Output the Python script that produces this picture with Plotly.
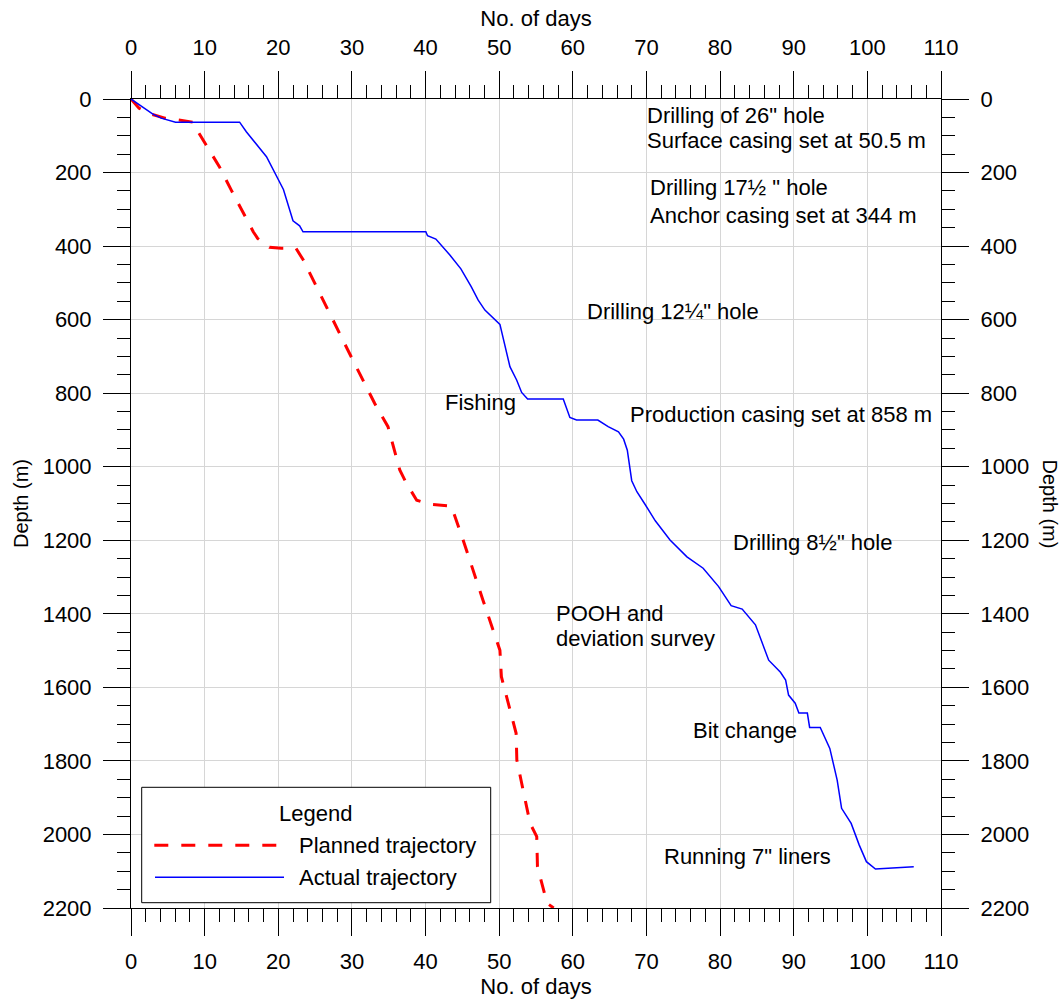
import plotly.graph_objects as go

# Drilling progress: depth reached versus elapsed days
planned_days = [0, 1.1, 2.7, 4.6, 6.1, 8.4, 9.1, 12.0, 13.6, 15.4, 16.6, 17.2, 18.8, 20.4,
                22.4, 23.4, 26.5, 29.9, 33.1, 34.9, 36.5, 37.4, 38.8, 40.6, 43.5, 45.1,
                47.8, 50.1, 50.3, 51.46, 52.3, 52.4, 54.2, 55.1, 55.2, 56.5, 57.4]
planned_depth = [0, 25, 41, 52, 56, 63, 89, 184, 247, 315, 361, 379, 403, 406,
                 406, 438, 565, 701, 828, 891, 1009, 1045, 1091, 1102, 1107, 1199,
                 1363, 1499, 1571, 1662, 1725, 1798, 1970, 2006, 2088, 2187, 2200]

actual_days = [0, 2.97, 4.1, 6.05, 14.75, 15.66, 18.4, 20.7, 22.0, 22.9, 23.36, 40.04,
               40.27, 41.4, 43.3, 44.8, 46.2, 47.15, 48.06, 50.1, 51.46, 52.37, 53.05,
               53.86, 58.7, 59.6, 60.5, 63.4, 64.8, 66.2, 66.9, 67.4, 68.0, 68.7, 69.8,
               71.2, 73.2, 75.5, 77.7, 79.8, 81.5, 83.0, 84.8, 86.6, 88.2, 88.9, 89.3,
               90.2, 90.7, 91.85, 92.16, 93.6, 94.9, 95.9, 96.5, 97.8, 98.9, 99.87,
               101.1, 106.3]
actual_depth = [0, 41, 52, 63, 63, 89, 157, 246, 331, 345, 361, 361,
                372, 381, 424, 462, 510, 547, 574, 613, 728, 764, 798,
                816, 816, 866, 873, 873, 891, 905, 925, 955, 1038, 1068, 1102,
                1147, 1199, 1245, 1276, 1326, 1378, 1387, 1430, 1526, 1559, 1580, 1621,
                1643, 1670, 1670, 1709, 1709, 1766, 1852, 1929, 1970, 2029, 2074,
                2094, 2088]

day_ticks = list(range(0, 111, 10))
depth_ticks = list(range(0, 2201, 200))

# Operation notes: (text, day, depth) at the left edge of each line
notes = [
    ("Drilling of 26\" hole", 69.8, 44),
    ("Surface casing set at 50.5 m", 69.8, 114),
    ("Drilling 17½ \" hole", 70.2, 242),
    ("Anchor casing set at 344 m", 70.2, 316),
    ("Drilling 12¼\" hole", 61.66, 577),
    ("Fishing", 42.35, 824),
    ("Production casing set at 858 m", 67.5, 857),
    ("Drilling 8½\" hole", 81.5, 1207),
    ("POOH and", 57.44, 1398),
    ("deviation survey", 57.44, 1466),
    ("Bit change", 76.06, 1716),
    ("Running 7\" liners", 72.13, 2059),
]

FONT = "Arial, 'Liberation Sans', sans-serif"
RED_DASH = "14px,13px"

fig = go.Figure()
fig.add_trace(go.Scatter(x=planned_days, y=planned_depth, mode="lines",
                         name="Planned trajectory",
                         line=dict(color="#ff0000", width=3, dash=RED_DASH),
                         showlegend=False))
fig.add_trace(go.Scatter(x=actual_days, y=actual_depth, mode="lines",
                         name="Actual trajectory",
                         line=dict(color="#0000ff", width=1.5),
                         showlegend=False))
# companion trace so the top and right axes are drawn
fig.add_trace(go.Scatter(x=[None], y=[None], xaxis="x2", yaxis="y2",
                         showlegend=False, hoverinfo="skip"))

minor_x = dict(ticks="outside", ticklen=13, tickwidth=1, tickcolor="black",
               dtick=2, showgrid=False)
minor_y = dict(ticks="outside", ticklen=13, tickwidth=1, tickcolor="black",
               dtick=50, showgrid=False)
common = dict(ticks="outside", ticklen=27, tickwidth=1, tickcolor="black",
              showline=True, linecolor="black", linewidth=1, zeroline=False,
              automargin=False, ticklabelstandoff=7,
              tickfont=dict(size=22, family=FONT, color="black"))

fig.update_layout(
    width=1062, height=1000,
    margin=dict(l=131, r=121, t=99, b=92),
    paper_bgcolor="white", plot_bgcolor="white",
    font=dict(family=FONT, size=22, color="black"),
    xaxis=dict(range=[0, 110], tickvals=day_ticks, minor=minor_x,
               showgrid=True, gridcolor="#d6d6d6", gridwidth=1,
               title=dict(text="No. of days", standoff=2,
                          font=dict(size=22, family=FONT)),
               **common),
    xaxis2=dict(range=[0, 110], tickvals=day_ticks, minor=minor_x,
                overlaying="x", side="top", anchor="y", showgrid=False,
                title=dict(text="No. of days", standoff=2,
                           font=dict(size=22, family=FONT)),
                **common),
    yaxis=dict(range=[2200, 0], tickvals=depth_ticks, minor=minor_y,
               showgrid=True, gridcolor="#d6d6d6", gridwidth=1,
               title=dict(text="Depth (m)", standoff=8,
                          font=dict(size=20, family=FONT)),
               **common),
    yaxis2=dict(range=[2200, 0], tickvals=depth_ticks, minor=minor_y,
                overlaying="y", side="right", anchor="x", showgrid=False,
                **common),
)

for text, d, z in notes:
    fig.add_annotation(x=d, y=z, xref="x", yref="y", text=text, showarrow=False,
                       xanchor="left", yanchor="middle",
                       font=dict(size=22, family=FONT, color="black"))

# right-hand axis title reads top to bottom
fig.add_annotation(x=1.0, y=0.5, xref="paper", yref="paper", xshift=109,
                   text="Depth (m)", textangle=90, showarrow=False,
                   xanchor="center", yanchor="middle",
                   font=dict(size=20, family=FONT, color="black"))

# Boxed legend in the lower-left corner (positions in pixels of the plot area)
PW, PH = 810.0, 809.0


def px(xp):
    return (xp - 131.0) / PW


def py(yp):
    return (908.0 - yp) / PH


fig.add_shape(type="rect", xref="paper", yref="paper",
              x0=px(141.7), x1=px(490.7), y0=py(902.7), y1=py(787.3),
              line=dict(color="black", width=1), fillcolor="white", layer="above")
fig.add_shape(type="line", xref="paper", yref="paper",
              x0=px(154.3), x1=px(277.5), y0=py(845.3), y1=py(845.3),
              line=dict(color="#ff0000", width=3, dash=RED_DASH), layer="above")
fig.add_shape(type="line", xref="paper", yref="paper",
              x0=px(155), x1=px(284), y0=py(877.3), y1=py(877.3),
              line=dict(color="#0000ff", width=1.5), layer="above")
fig.add_annotation(x=px(315), y=py(813.3), xref="paper", yref="paper",
                   text="Legend", showarrow=False, xanchor="center", yanchor="middle",
                   font=dict(size=22, family=FONT, color="black"))
fig.add_annotation(x=px(296.7), y=py(845.3), xref="paper", yref="paper",
                   text="Planned trajectory", showarrow=False,
                   xanchor="left", yanchor="middle",
                   font=dict(size=22, family=FONT, color="black"))
fig.add_annotation(x=px(296.7), y=py(877.3), xref="paper", yref="paper",
                   text="Actual trajectory", showarrow=False,
                   xanchor="left", yanchor="middle",
                   font=dict(size=22, family=FONT, color="black"))

fig.write_html("out.html")
